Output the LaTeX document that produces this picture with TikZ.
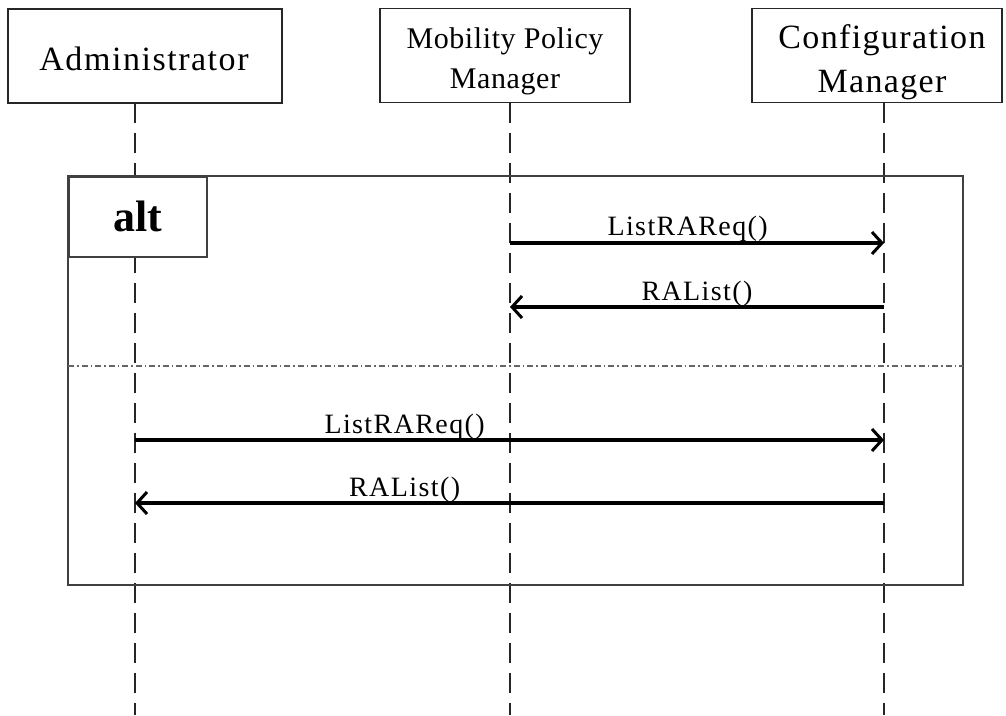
\documentclass[tikz,border=0pt]{standalone}
\usepackage{fontspec}
\setmainfont{Liberation Serif}
\usetikzlibrary{arrows.meta}
\begin{document}
\begin{tikzpicture}[x=1pt,y=-1pt,
  actor/.style={draw=black!85, line width=1.5pt, fill=white, inner sep=0pt},
  actortext/.style={align=center, inner sep=0pt},
  lifeline/.style={draw=black!85, line width=2pt, dash pattern=on 20pt off 10pt},
  msg/.style={draw=black, line width=3.5pt, -{Straight Barb[length=10pt,width=22pt,line width=3pt]}},
  msglabel/.style={anchor=base, font=\fontsize{28}{30}\selectfont\addfontfeature{LetterSpace=5}, inner sep=0pt},
  frame/.style={draw=black!75, line width=1.5pt},
  divider/.style={draw=black!60, line width=1.2pt, dash pattern=on 6pt off 3pt on 1.5pt off 3pt}]
\useasboundingbox (0,0) rectangle (1006,715);
% actors
\node[actor, minimum width=274pt, minimum height=94pt] (adm) at (145,56) {};
\node[actor, minimum width=250pt, minimum height=94pt] (mpm) at (505,55.5) {};
\node[actor, minimum width=250pt, minimum height=94pt] (cm) at (877,55.5) {};
\node[actortext, font=\fontsize{34}{40}\selectfont\addfontfeature{LetterSpace=4.5}, anchor=base]
  (admtext) at (144,70) {Administrator};
\node[actortext, font=\fontsize{30}{40}\selectfont\addfontfeature{LetterSpace=2}, anchor=base]
  (mpmtext) at (505,88) {Mobility Policy\\Manager};
\node[actortext, font=\fontsize{34}{44}\selectfont\addfontfeature{LetterSpace=4}, anchor=base]
  (cmtext) at (882,92) {Configuration\\Manager};
% lifeline ends
\coordinate (admT) at (135,102.5);
\coordinate (admB) at (135,715);
\coordinate (mpmT) at (510,102.5);
\coordinate (mpmB) at (510,715);
\coordinate (cmT) at (884,102.5);
\coordinate (cmB) at (884,715);
\draw[lifeline] (admT) -- (admB);
\draw[lifeline] (mpmT) -- (mpmB);
\draw[lifeline] (cmT) -- (cmB);
% alt frame
\coordinate (frTL) at (68,176);
\coordinate (frBR) at (963,585);
\draw[frame] (frTL) rectangle (frBR);
\node[frame, fill=white, minimum width=138pt, minimum height=80pt, inner sep=0pt,
  anchor=north west, font=\fontsize{44}{48}\selectfont\bfseries] (alt) at (frTL) {alt};
\coordinate (divL) at (68,366);
\coordinate (divR) at (963,366);
\draw[divider] (divL) -- (divR);
% messages
\coordinate (m1s) at (510,243);
\coordinate (m1e) at (884,243);
\coordinate (m2s) at (884,307);
\coordinate (m2e) at (510,307);
\coordinate (m3s) at (135,440);
\coordinate (m3e) at (884,440);
\coordinate (m4s) at (884,503);
\coordinate (m4e) at (135,503);
\draw[msg] (m1s) -- (m1e) node[msglabel, pos=0.475, yshift=8pt] {ListRAReq()};
\draw[msg] (m2s) -- (m2e) node[msglabel, pos=0.5, yshift=7pt] {RAList()};
\draw[msg] (m3s) -- (m3e) node[msglabel, pos=0.36, yshift=7pt] {ListRAReq()};
\draw[msg] (m4s) -- (m4e) node[msglabel, pos=0.64, yshift=7pt] {RAList()};
\end{tikzpicture}
\end{document}
